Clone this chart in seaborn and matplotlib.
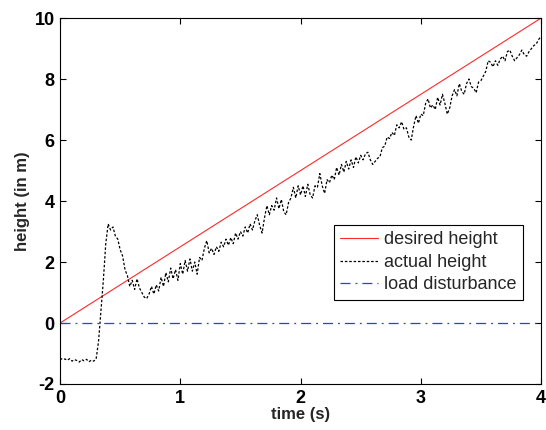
import numpy as np
import pandas as pd
import matplotlib
matplotlib.use("Agg")
import matplotlib.pyplot as plt
import seaborn as sns

# ---- data ----
time_end = 4.0
desired_t = [0.0, 4.0]
desired_h = [0.0, 10.0]
disturb_t = [0.0, 4.0]
disturb_h = [0.0, 0.0]
actual_h = [
    -1.15, -1.20, -1.18, -1.22, -1.17, -1.25, -1.20, -1.23, -1.28, -1.20,
    -1.24, -1.19, -1.27, -1.22, -1.25, -1.18, -0.60, 0.40, 1.40, 2.60,
    3.25, 3.05, 3.15, 2.85, 2.75, 2.40, 2.20, 1.75, 1.55, 1.20,
    1.40, 1.10, 1.45, 1.15, 1.00, 0.85, 0.80, 0.95, 1.20, 0.95,
    1.25, 1.05, 1.50, 1.20, 1.65, 1.35, 1.80, 1.45, 1.75, 1.40,
    1.95, 1.60, 2.05, 1.70, 2.10, 1.70, 2.00, 1.60, 2.15, 2.05,
    2.45, 2.70, 2.30, 2.45, 2.25, 2.50, 2.35, 2.65, 2.50, 2.75,
    2.55, 2.80, 2.60, 2.95, 2.75, 3.00, 2.85, 3.15, 2.95, 3.25,
    3.05, 3.35, 3.55, 3.20, 2.95, 3.45, 3.85, 3.55, 3.85, 3.70,
    4.10, 3.75, 4.05, 3.65, 3.55, 3.95, 4.10, 4.45, 4.10, 4.50,
    4.20, 4.50, 4.15, 4.55, 4.20, 4.10, 4.50, 4.45, 4.90, 4.50,
    4.25, 4.70, 4.60, 4.85, 4.70, 5.10, 4.85, 5.20, 4.95, 5.30,
    5.05, 5.35, 5.10, 5.45, 5.25, 5.50, 5.35, 5.55, 5.60, 5.35,
    5.20, 5.30, 5.40, 5.45, 5.75, 5.80, 6.10, 6.05, 6.25, 6.15,
    6.50, 6.40, 6.60, 6.35, 6.40, 6.10, 6.00, 6.45, 6.80, 6.55,
    6.85, 6.80, 7.20, 7.35, 7.05, 7.15, 7.00, 7.40, 7.15, 7.50,
    7.20, 6.85, 7.05, 7.45, 7.65, 7.45, 7.85, 7.60, 7.50, 7.85,
    8.00, 7.75, 7.70, 7.55, 7.90, 7.95, 8.10, 8.25, 8.60, 8.55,
    8.40, 8.60, 8.45, 8.65, 8.75, 8.60, 8.90, 8.95, 8.75, 8.60,
    8.70, 8.80, 8.95, 8.80, 8.75, 8.90, 9.00, 9.10, 9.15, 9.30,
    9.40,
]
actual_t = list(np.linspace(0.0, time_end, len(actual_h)))

x_ticks = [0, 1, 2, 3, 4]
y_ticks = [-2, 0, 2, 4, 6, 8, 10]

sns.set_style("ticks")
plt.rcParams["font.family"] = ["Liberation Sans", "DejaVu Sans"]

fig = plt.figure(figsize=(5.46, 4.30), dpi=100)
ax = fig.add_axes([0.110, 0.107, 0.881, 0.851])

df_des = pd.DataFrame({"t": desired_t, "h": desired_h})
df_act = pd.DataFrame({"t": actual_t, "h": actual_h})
df_dis = pd.DataFrame({"t": disturb_t, "h": disturb_h})

sns.lineplot(data=df_des, x="t", y="h", ax=ax, color="#FF2a2a", lw=0.8,
             label="desired height", estimator=None, sort=False)
sns.lineplot(data=df_act, x="t", y="h", ax=ax, color="black", lw=0.9,
             linestyle=(0, (2, 1.5)), label="actual height",
             estimator=None, sort=False)
sns.lineplot(data=df_dis, x="t", y="h", ax=ax, color="#3535FF", lw=0.9,
             linestyle=(0, (8, 4, 1.5, 4)), label="load disturbance",
             estimator=None, sort=False)

ax.set_xlim(0, 4)
ax.set_ylim(-2, 10)
ax.set_xticks(x_ticks)
ax.set_yticks(y_ticks)
ax.set_xticklabels([str(v) for v in x_ticks], fontsize=13, fontweight="bold")
ax.set_yticklabels([str(v) for v in y_ticks], fontsize=13, fontweight="bold")
ax.tick_params(direction="in", length=4, width=0.8, top=True, right=True,
               colors="black")
ax.tick_params(axis="y", pad=4)
ax.tick_params(axis="x", pad=4)
ax.set_xlabel("time (s)", fontsize=12, fontweight="bold", labelpad=0)
ax.set_ylabel("height (in m)", fontsize=12, fontweight="bold", labelpad=3)
for s in ax.spines.values():
    s.set_visible(True)
    s.set_linewidth(0.8)
    s.set_color("black")

leg = ax.legend(loc="upper right", bbox_to_anchor=(0.963, 0.434),
                borderaxespad=0, fontsize=13, frameon=True, fancybox=False,
                handlelength=2.1, handletextpad=0.35, borderpad=0.35,
                labelspacing=0.3)
leg.get_frame().set_edgecolor("black")
leg.get_frame().set_linewidth(0.8)
leg.get_frame().set_alpha(1)

fig.savefig("out.png", dpi=100)
